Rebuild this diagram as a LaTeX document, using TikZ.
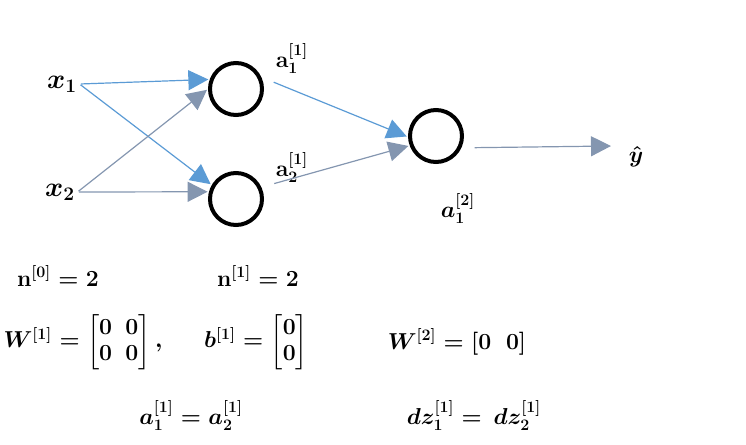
\documentclass[tikz,border=0pt]{standalone}
\usepackage{amsmath}
\usepackage{tikz}
\usetikzlibrary{arrows.meta, positioning}
\definecolor{edgeblue}{RGB}{91,155,213}
\definecolor{edgegray}{RGB}{132,150,176}
\tikzstyle{every node}=[font=\boldmath\fontsize{17}{20}\selectfont]
\tikzset{NeuronStyle/.style = {
			      shape          = circle,
			      draw           = black,
			      line width     = 3pt,
			      inner sep      = 0pt,
			      minimum size   = 39pt}
			}
\tikzset{EdgeBlue/.style   = {draw=edgeblue,line width=0.9pt,-{Triangle[length=15pt,width=15pt]}}}
\tikzset{EdgeGray/.style   = {draw=edgegray,line width=0.9pt,-{Triangle[length=15pt,width=15pt]}}}
\tikzset{LabelStyle/.style =   {
			      text           = black,
			      inner sep      = 1pt,
			      outer sep      = 1pt}
			}

\begin{document}
\begin{tikzpicture}[x=0.75pt,y=-0.75pt]
	\useasboundingbox (0,0) rectangle (746,444);
	\draw (62,84)   node[LabelStyle,font=\boldmath\fontsize{20}{22}\selectfont]  (X1) { $x_1$ };
	\draw (60,192)  node[LabelStyle,font=\boldmath\fontsize{20}{22}\selectfont]  (X2) { $x_2$ };
	\draw (236,89)  node[NeuronStyle] (H1) {};
	\draw (236,199) node[NeuronStyle] (H2) {};
	\draw (436,136) node[NeuronStyle] (O)  {};
	\draw (636,157) node[LabelStyle]  (Y)  { $\hat{y}$ };
	\coordinate (YTip) at (611,146);

	\draw (292,58)  node[LabelStyle]  (A11) { $\mathrm{a}_1^{[1]}$ };
	\draw (292,167) node[LabelStyle]  (A21) { $\mathrm{a}_2^{[1]}$ };
	\draw (458,208) node[LabelStyle]  (A12) { $a_1^{[2]}$ };

	\draw[EdgeBlue,shorten <=1pt,shorten >=1pt]	(X1.east) to (H1.160);
	\draw[EdgeBlue,shorten <=1pt,shorten >=1pt]	(X1.east) to (H2.150);
	\draw[EdgeGray,shorten <=1pt,shorten >=1pt]	(X2.east) to (H1.180);
	\draw[EdgeGray,shorten <=1pt,shorten >=1pt]	(X2.east) to (H2.165);
	\draw[EdgeBlue,shorten <=10pt,shorten >=1pt]	(H1.25) to (O.182);
	\draw[EdgeGray,shorten <=10pt,shorten >=1pt]	(H2.25) to (O.200);
	\draw[EdgeGray,shorten <=10pt]	(O.-25) to (YTip);

	\draw (58,276)  node[LabelStyle] (N0) { $\mathbf{n}^{[0]} = 2$ };
	\draw (258,276) node[LabelStyle] (N1) { $\mathbf{n}^{[1]} = 2$ };
	\draw (83,342)  node[LabelStyle] (W1) { $W^{[1]} = \begin{bmatrix} 0 & 0\\ 0 & 0 \end{bmatrix},$ };
	\draw (256,342) node[LabelStyle] (B1) { $b^{[1]} = \begin{bmatrix} 0\\ 0 \end{bmatrix}$ };
	\draw (457,342) node[LabelStyle] (W2) { $W^{[2]} = [0 \;\; 0]$ };
	\draw (191,415) node[LabelStyle] (EqA) { $a_1^{[1]} = a_2^{[1]}$ };
	\draw (474,415) node[LabelStyle] (EqZ) { $dz_1^{[1]} = \, dz_2^{[1]}$ };
\end{tikzpicture}
\end{document}
